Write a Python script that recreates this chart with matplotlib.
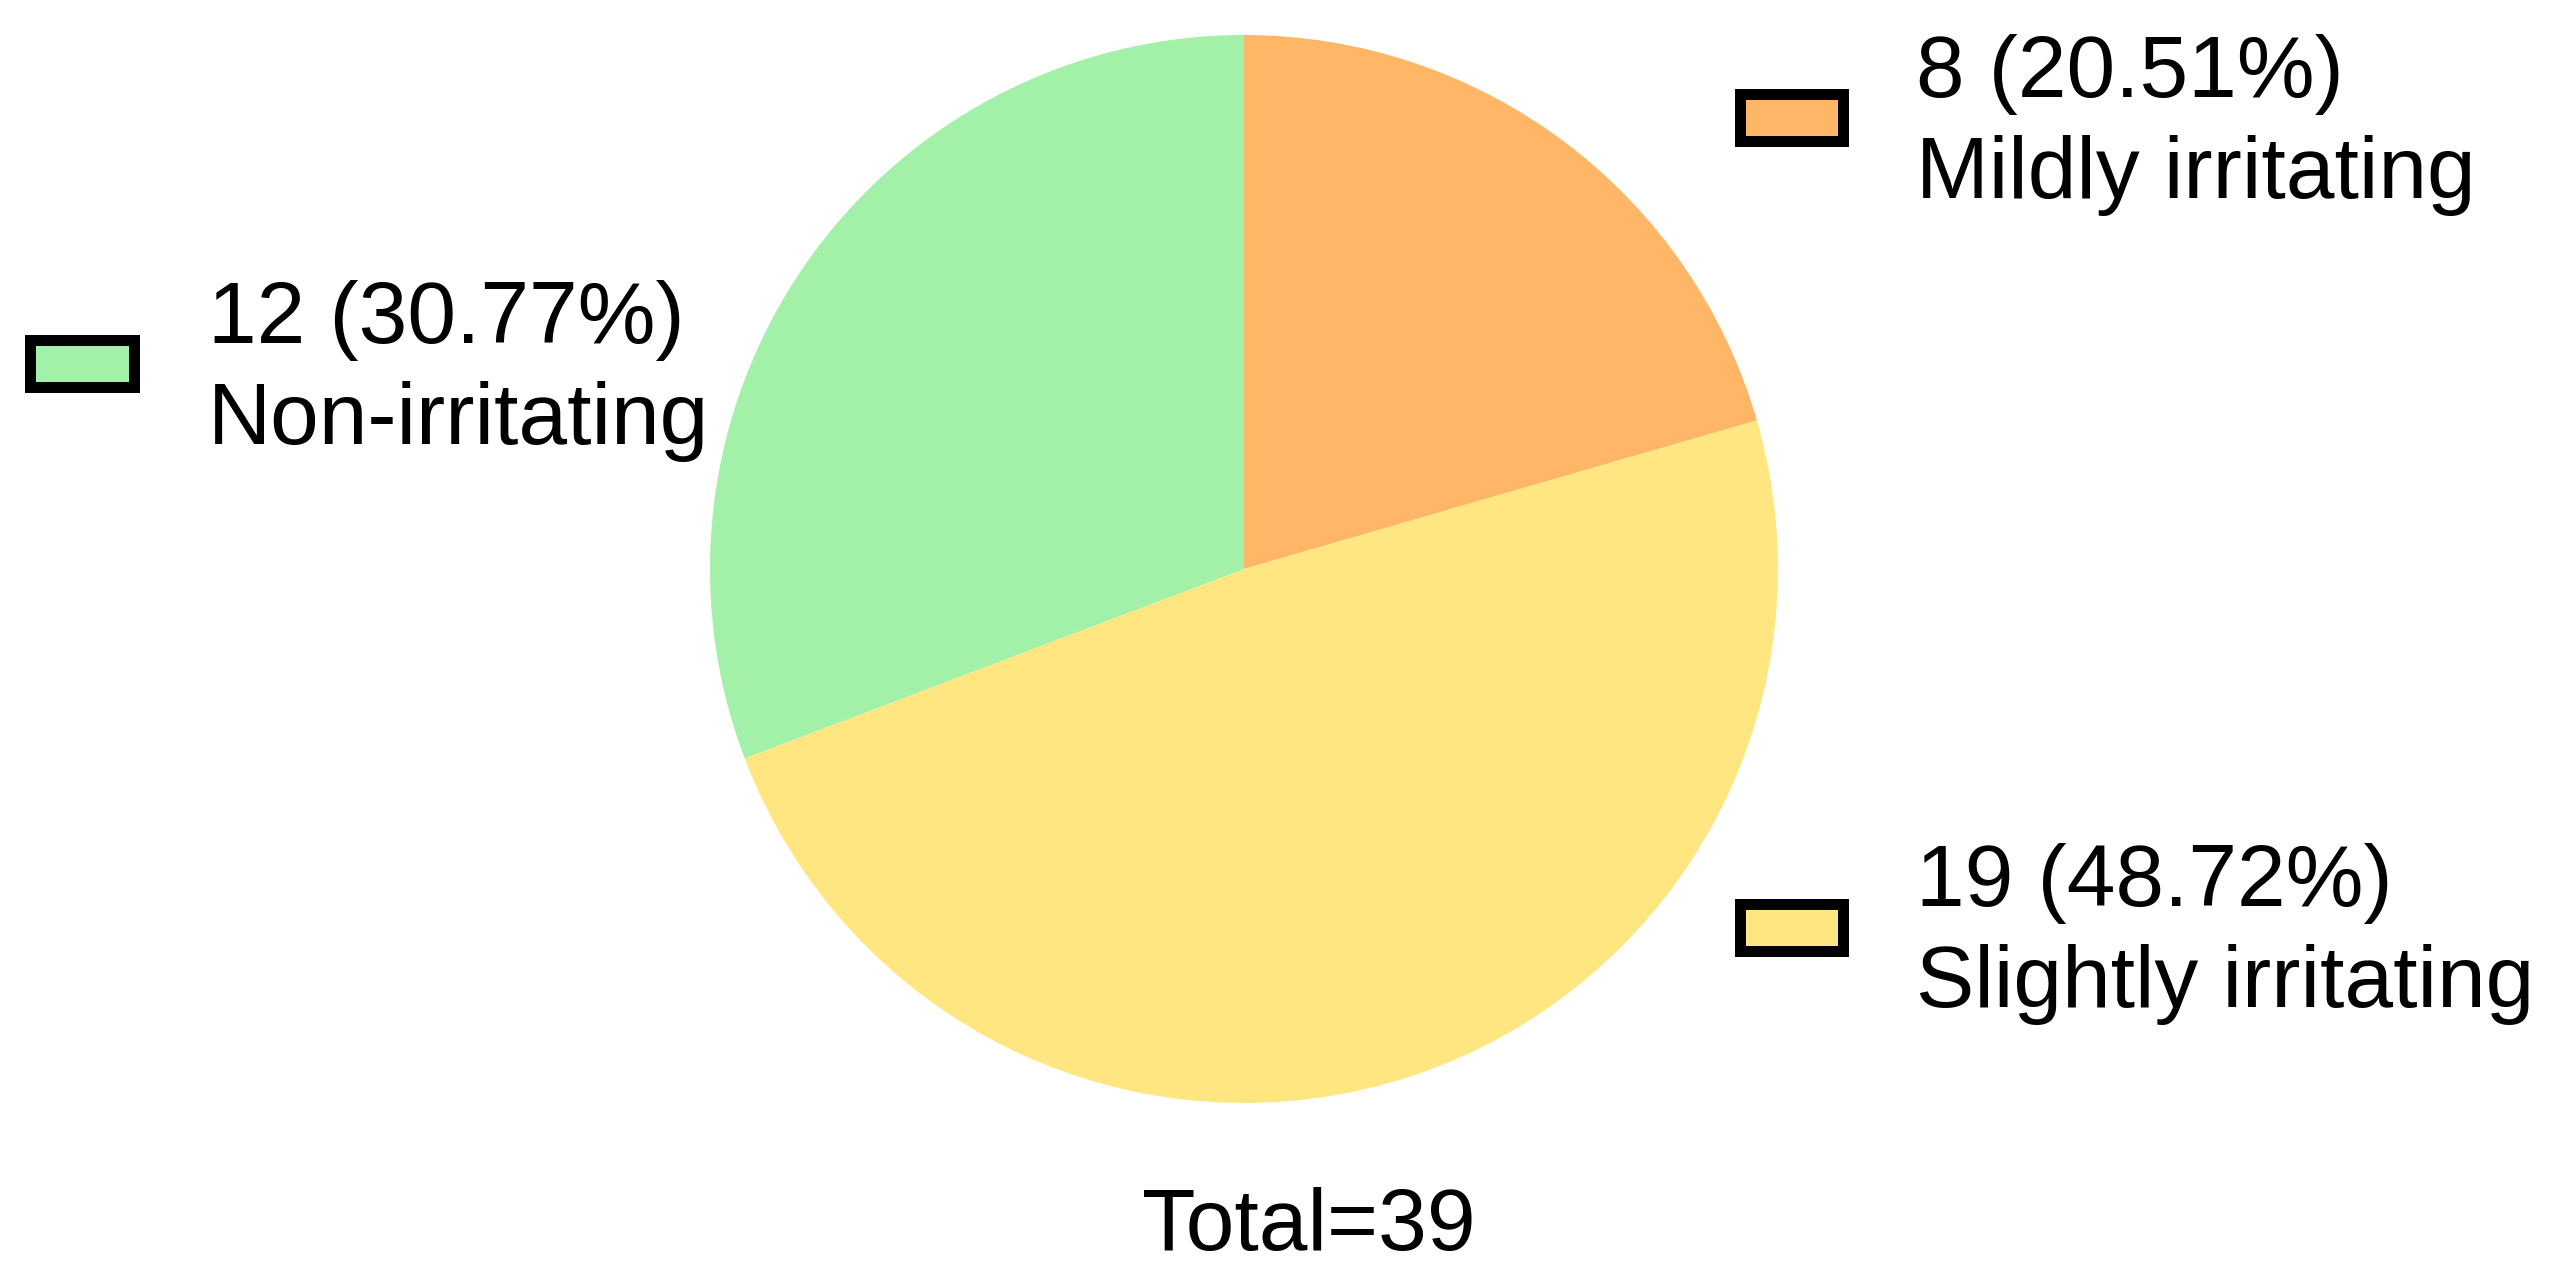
import matplotlib
matplotlib.use("Agg")
import matplotlib.pyplot as plt
from matplotlib.patches import Rectangle

# data
labels = ["Mildly irritating", "Slightly irritating", "Non-irritating"]
counts = [8, 19, 12]
colors = ["#FFB666", "#FFE680", "#A3F0A8"]

total = sum(counts)

W, H = 2549, 1275
plt.rcParams['font.family'] = ['Liberation Sans', 'DejaVu Sans']

fig = plt.figure(figsize=(W / 100, H / 100), dpi=100)
ax = fig.add_axes([0, 0, 1, 1])

# pie, clockwise from 12 o'clock
ax.pie(counts, colors=colors, startangle=90, counterclock=False,
       center=(1244, H - 569), radius=534, frame=True,
       wedgeprops=dict(linewidth=0))
ax.set_xlim(0, W)
ax.set_ylim(0, H)
ax.set_aspect('equal')
ax.axis('off')

# legend entries placed next to their slices
# (marker x, marker top, marker w, text x, baseline of line 1) in pixels
legend_pos = [
    (1734, 88, 114, 1916, 97),
    (1734, 898, 114, 1916, 906),
    (24, 334, 115, 208, 343),
]
fs = 63
lw_px = 11
for (mx, my, mw, tx, ty), lab, c, col in zip(legend_pos, labels, counts, colors):
    mh = 58
    ax.add_patch(Rectangle((mx + lw_px / 2, H - my - mh + lw_px / 2),
                           mw - lw_px, mh - lw_px,
                           facecolor=col, edgecolor='black',
                           linewidth=lw_px * 0.72, joinstyle='miter'))
    pct = 100.0 * c / total
    ax.text(tx, H - ty, f"{c} ({pct:.2f}%)", fontsize=fs, va='baseline', ha='left')
    ax.text(tx, H - ty - 101, lab, fontsize=fs, va='baseline', ha='left')

ax.text(1309, H - 1250, f"Total={total}", fontsize=fs, va='baseline', ha='center')

fig.savefig("out.png", dpi=100, facecolor='white')
